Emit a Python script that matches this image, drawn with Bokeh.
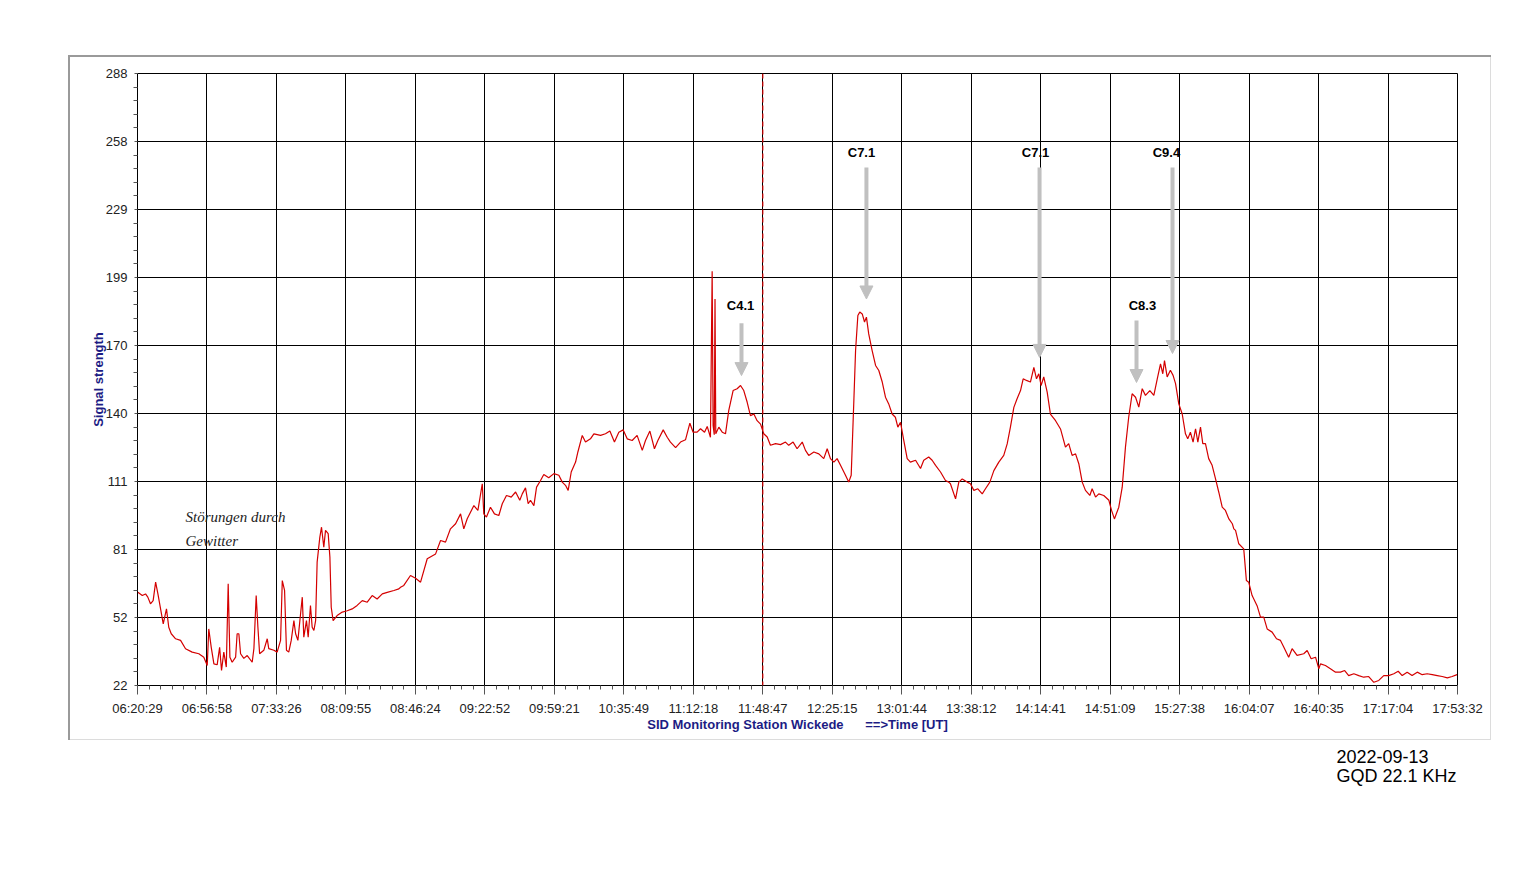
from bokeh.plotting import figure
from bokeh.models import (Range1d, FixedTicker, Span, Arrow, NormalHead, Title,
                          CustomJSTickFormatter)
from bokeh.embed import file_html
from bokeh.resources import INLINE
from bokeh.core.properties import value

# ---------------- data (time in minutes since 00:00 UT) ----------------
time_min = [
    380.7, 383.0, 384.7, 385.9, 387.3, 388.7, 390.0, 391.2, 392.6, 394.0,
    395.7, 396.9, 398.2, 400.5, 403.1, 405.7, 409.2, 412.7, 415.3, 417.1,
    417.9, 419.2, 420.6, 422.3, 423.6, 424.6, 425.8, 427.1, 428.1, 429.0,
    430.2, 432.0, 432.8, 433.7, 434.6, 436.3, 438.1, 440.7, 441.6, 442.8,
    443.7, 444.6, 446.8, 448.6, 449.4, 452.1, 453.8, 455.6, 456.5, 457.7,
    458.7, 459.9, 461.2, 462.6, 463.5, 464.7, 466.1, 467.0, 467.8, 469.2,
    470.1, 471.3, 472.2, 473.1, 474.0, 474.8, 476.2, 477.1, 478.3, 479.2,
    480.6, 481.5, 482.2, 483.2, 485.3, 488.0, 490.6, 493.2, 495.8, 498.5,
    501.1, 503.7, 506.3, 509.0, 511.6, 515.1, 517.7, 518.6, 520.3, 523.8,
    526.5, 529.1, 532.6, 537.0, 539.6, 542.2, 544.8, 547.5, 550.1, 551.8,
    553.6, 557.1, 559.2, 561.5, 562.3, 563.7, 565.8, 567.9, 570.2, 572.0,
    574.2, 576.7, 579.0, 581.2, 582.5, 584.2, 585.6, 586.8, 588.6, 590.0,
    592.1, 593.8, 596.4, 599.1, 601.7, 603.5, 605.2, 606.6, 608.2, 610.5,
    611.7, 614.0, 615.7, 618.3, 620.1, 623.6, 626.2, 628.5, 630.9, 633.2,
    635.5, 637.6, 640.2, 642.8, 645.5, 647.2, 649.5, 651.9, 653.7, 656.5,
    658.6, 660.3, 663.0, 665.6, 668.2, 670.5, 672.2, 674.3, 676.1, 678.2,
    679.6, 681.3, 682.2, 682.7, 683.3, 683.7, 684.1, 685.7, 687.5, 689.2,
    690.9, 693.2, 695.3, 697.1, 698.8, 700.6, 702.3, 704.1, 705.8, 707.6,
    709.3, 711.1, 712.8, 715.5, 718.1, 720.7, 722.4, 724.7, 726.8, 729.5,
    731.2, 732.9, 735.6, 738.2, 740.8, 742.6, 744.3, 746.1, 747.8, 749.6,
    752.2, 753.9, 755.2, 756.6, 757.5, 758.7, 759.7, 761.0, 762.2, 763.2,
    764.4, 766.2, 768.0, 769.7, 771.5, 773.2, 774.9, 776.7, 778.4, 779.7,
    781.1, 782.8, 784.6, 786.3, 789.0, 791.6, 793.3, 795.9, 797.7, 799.5,
    802.1, 804.7, 806.4, 807.3, 810.0, 811.7, 813.5, 816.1, 817.8, 819.6,
    821.7, 824.0, 825.7, 828.0, 830.1, 832.7, 835.3, 837.1, 838.8, 840.6,
    842.3, 844.1, 845.5, 847.2, 849.3, 851.1, 852.5, 853.7, 854.9, 856.3,
    858.1, 859.8, 862.5, 865.1, 867.7, 869.4, 871.2, 873.0, 874.7, 876.5,
    878.2, 880.5, 881.7, 883.5, 885.2, 887.8, 890.5, 891.9, 893.4, 895.7,
    897.5, 899.2, 900.9, 902.7, 904.5, 906.2, 908.0, 909.7, 912.0, 914.1,
    915.9, 917.6, 918.8, 919.7, 921.1, 922.8, 924.2, 925.5, 927.2, 929.0,
    930.7, 931.9, 933.3, 934.7, 936.0, 937.2, 938.6, 939.8, 941.2, 942.9,
    944.7, 946.5, 948.2, 950.0, 951.7, 953.5, 955.3, 956.1, 957.0, 958.7,
    961.3, 962.7, 963.9, 965.7, 968.3, 970.1, 971.8, 973.6, 976.2, 978.5,
    980.6, 982.3, 984.9, 986.7, 989.3, 992.8, 994.6, 996.7, 999.0, 1000.7,
    1001.6, 1004.2, 1006.8, 1009.5, 1012.1, 1014.3, 1016.4, 1019.1, 1021.7, 1024.3,
    1026.9, 1029.6, 1032.2, 1034.8, 1037.4, 1040.1, 1042.4, 1044.5, 1047.1, 1049.7,
    1052.4, 1055.0, 1057.6, 1060.3, 1062.9, 1065.5, 1068.2, 1070.7, 1073.3,
]
signal = [
    62.5, 61.1, 61.8, 60.4, 57.5, 58.9, 66.9, 61.8, 55.3, 48.8,
    55.3, 47.3, 44.5, 42.3, 41.6, 38.0, 36.5, 35.8, 34.3, 30.7,
    46.6, 38.6, 31.4, 31.0, 38.6, 28.5, 36.5, 30.0, 66.2, 34.3,
    32.1, 34.3, 44.5, 44.5, 35.8, 33.8, 35.0, 32.1, 38.0, 61.1,
    47.3, 35.8, 37.3, 42.3, 38.0, 37.3, 36.5, 41.6, 67.6, 63.3,
    37.3, 36.5, 41.6, 50.2, 44.5, 41.6, 53.2, 60.4, 43.0, 50.2,
    43.0, 56.8, 47.3, 45.9, 50.2, 75.6, 86.4, 90.8, 82.1, 89.4,
    88.0, 77.8, 56.0, 50.2, 52.4, 53.9, 54.5, 55.3, 56.8, 58.9,
    58.2, 61.1, 59.6, 61.8, 62.5, 63.3, 64.0, 64.7, 65.5, 69.8,
    68.6, 66.9, 77.1, 79.2, 85.0, 84.3, 90.1, 92.3, 96.6, 90.1,
    94.5, 100.2, 98.1, 109.7, 96.6, 95.2, 99.5, 96.6, 95.9, 101.0,
    104.6, 103.9, 106.1, 102.5, 105.3, 107.9, 101.0, 102.5, 100.2, 108.2,
    111.1, 113.7, 112.3, 114.1, 113.4, 110.4, 109.0, 106.8, 114.8, 119.1,
    123.5, 130.7, 127.8, 129.2, 131.4, 130.7, 131.4, 132.6, 127.8, 132.1,
    133.1, 129.2, 128.5, 130.7, 124.2, 128.5, 132.6, 124.9, 128.5, 133.1,
    129.9, 127.8, 125.4, 127.8, 128.8, 136.0, 132.1, 132.1, 133.6, 132.1,
    134.6, 129.9, 202.0, 135.0, 131.0, 190.0, 131.4, 134.3, 132.1, 131.4,
    141.5, 150.2, 151.0, 152.4, 150.2, 145.1, 139.3, 140.0, 137.1, 135.6,
    131.4, 130.0, 126.4, 127.1, 126.7, 127.8, 126.4, 127.8, 124.9, 127.8,
    124.2, 122.0, 123.5, 122.7, 120.6, 124.9, 120.6, 119.1, 120.6, 117.7,
    113.4, 110.4, 113.4, 145.9, 167.6, 182.8, 184.3, 183.5, 180.0, 182.1,
    174.8, 167.6, 161.1, 158.9, 153.9, 147.3, 144.4, 140.0, 138.6, 134.3,
    136.4, 128.5, 120.6, 119.1, 119.9, 116.3, 119.9, 121.3, 119.9, 117.7,
    114.8, 111.1, 110.4, 109.7, 103.1, 110.4, 111.8, 110.4, 109.7, 106.8,
    107.5, 105.3, 107.5, 110.4, 115.4, 119.1, 122.0, 127.0, 134.3, 142.9,
    146.6, 150.2, 155.3, 154.6, 153.9, 160.3, 155.3, 157.5, 152.4, 156.1,
    149.5, 140.0, 137.1, 133.5, 125.6, 127.1, 122.0, 122.7, 118.4, 110.4,
    106.8, 104.6, 107.5, 103.9, 105.3, 104.6, 102.5, 98.1, 94.4, 99.5,
    108.2, 125.6, 138.6, 148.8, 147.3, 143.0, 151.0, 148.1, 150.2, 148.1,
    155.3, 161.8, 157.5, 163.2, 156.1, 159.0, 156.8, 153.2, 144.4, 140.0,
    131.4, 129.2, 132.1, 127.8, 133.6, 127.8, 134.3, 127.1, 127.1, 120.6,
    117.7, 111.8, 106.0, 99.5, 98.1, 94.4, 92.3, 90.1, 89.4, 83.6,
    81.4, 67.6, 66.9, 61.1, 56.7, 51.7, 51.7, 46.6, 45.2, 42.3,
    41.6, 38.7, 34.3, 38.0, 35.1, 35.8, 37.2, 33.6, 34.3, 29.3,
    31.4, 30.7, 29.3, 27.8, 27.8, 28.5, 26.3, 27.1, 26.3, 25.6,
    25.9, 23.4, 24.2, 26.3, 26.3, 27.1, 28.2, 26.3, 27.8, 26.3,
    27.8, 26.7, 27.1, 26.7, 26.3, 25.9, 25.3, 25.9, 26.7,
]
assert len(time_min) == len(signal)

x_tick_labels = ["06:20:29", "06:56:58", "07:33:26", "08:09:55", "08:46:24",
                 "09:22:52", "09:59:21", "10:35:49", "11:12:18", "11:48:47",
                 "12:25:15", "13:01:44", "13:38:12", "14:14:41", "14:51:09",
                 "15:27:38", "16:04:07", "16:40:35", "17:17:04", "17:53:32"]
y_tick_labels = ["22", "52", "81", "111", "140", "170", "199", "229", "258", "288"]

t_start = 6 * 60 + 20 + 29 / 60.0     # 06:20:29
t_end = 17 * 60 + 53 + 32 / 60.0      # 17:53:32
y_min, y_max = 22, 288
marker_time = 11 * 60 + 48 + 47 / 60.0   # 11:48:47

flare_labels = ["C4.1", "C7.1", "C7.1", "C8.3", "C9.4"]
flare_label_t = [697.1, 760.6, 852.0, 908.1, 920.7]
flare_label_v = [187.1, 253.6, 253.6, 187.1, 253.6]
arrow_t = [697.6, 763.2, 854.1, 905.0, 923.9]
arrow_from = [179.5, 247.1, 247.1, 180.6, 247.1]
arrow_to = [156.7, 190.0, 164.6, 153.7, 166.3]

note_lines = ["Störungen durch", "Gewitter"]
note_t = [405.7, 405.7]
note_v = [95.4, 85.0]

caption_lines = ["2022-09-13", "GQD 22.1 KHz"]

# ---------------- figure ----------------
FONT = "Liberation Sans"
AXIS_BLUE = "#1c1c84"
BORDER_DARK = "#9a9a9a"
BORDER_LIGHT = "#dcdcdc"

p = figure(frame_width=1320, frame_height=612,
           x_range=Range1d(t_start, t_end), y_range=Range1d(y_min, y_max),
           output_backend="svg", toolbar_location=None,
           min_border_left=137, min_border_top=73,
           min_border_right=40, min_border_bottom=160,
           background_fill_color="white", border_fill_color=None)
p.outline_line_color = "black"
p.outline_line_width = 1

# sunken outer panel border drawn as CSS background lines behind the canvas
p.styles = {
    "background-color": "white",
    "background-image": ", ".join(
        [f"linear-gradient({c},{c})" for c in
         (BORDER_DARK, BORDER_DARK, BORDER_LIGHT, BORDER_LIGHT)]),
    "background-size": "1423px 2px, 2px 685px, 1px 685px, 1423px 1px",
    "background-position": "68px 55px, 68px 55px, 1490px 55px, 68px 739px",
    "background-repeat": "no-repeat",
}

nx = len(x_tick_labels) - 1
x_step = (t_end - t_start) / nx
x_ticks = [t_start + k * x_step for k in range(nx + 1)]
x_minor = [t_start + j * x_step / 6 for j in range(nx * 6 + 1) if j % 6]
ny = len(y_tick_labels) - 1
y_step = (y_max - y_min) / ny
y_ticks = [y_min + k * y_step for k in range(ny + 1)]
y_minor = [y_min + j * y_step / 5 for j in range(ny * 5 + 1) if j % 5]

p.xaxis.ticker = FixedTicker(ticks=x_ticks, minor_ticks=x_minor)
p.yaxis.ticker = FixedTicker(ticks=y_ticks, minor_ticks=y_minor)
p.xaxis.formatter = CustomJSTickFormatter(
    args=dict(labels=x_tick_labels, t0=t_start, step=x_step),
    code="return labels[Math.round((tick - t0) / step)];")
p.yaxis.formatter = CustomJSTickFormatter(
    args=dict(labels=y_tick_labels, v0=y_min, step=y_step),
    code="return labels[Math.round((tick - v0) / step)];")

for g in (p.xgrid, p.ygrid):
    g.grid_line_color = "black"
    g.grid_line_alpha = 1.0
    g.grid_line_width = 1

for ax in (p.xaxis, p.yaxis):
    ax.axis_line_color = None
    ax.major_tick_in = 0
    ax.minor_tick_in = 0
    ax.major_tick_line_color = "#555555"
    ax.minor_tick_line_color = "#555555"
    ax.major_label_text_font = FONT
    ax.major_label_text_font_size = "13px"
    ax.major_label_text_color = "#222222"
    ax.axis_label_text_font = FONT
    ax.axis_label_text_font_style = "bold"
    ax.axis_label_text_font_size = "13px"
    ax.axis_label_text_color = AXIS_BLUE

p.xaxis.major_tick_out = 9
p.xaxis.minor_tick_out = 4
p.xaxis.major_label_standoff = 6
p.xaxis.axis_label_standoff = -2
p.xaxis.axis_label = "SID Monitoring Station Wickede" + "\u00a0" * 6 + "==>Time [UT]"

p.yaxis.major_tick_out = 3
p.yaxis.minor_tick_out = 4
p.yaxis.major_label_standoff = 6
p.yaxis.axis_label_standoff = -3
p.yaxis.axis_label = "Signal strength"

# signal trace
p.line(time_min, signal, line_color="#d40000", line_width=1.2)

# current-time marker
p.add_layout(Span(location=marker_time, dimension="height",
                  line_color="#d40000", line_dash="5 3", line_width=1.2))

# flare arrows and labels
ARROW_GREY = "#c0c0c0"
for t, a, b in zip(arrow_t, arrow_from, arrow_to):
    p.add_layout(Arrow(end=NormalHead(size=13, fill_color=ARROW_GREY,
                                      line_color=ARROW_GREY),
                       x_start=t, y_start=a, x_end=t, y_end=b,
                       line_color=ARROW_GREY, line_width=4))

p.text(x=flare_label_t, y=flare_label_v, text=flare_labels,
       text_font=value(FONT), text_font_style="bold", text_font_size="13px",
       text_align="center", text_baseline="middle", text_color="black")

p.text(x=note_t, y=note_v, text=note_lines,
       text_font=value("Liberation Serif"), text_font_style="italic",
       text_font_size="15px", text_align="left", text_baseline="middle",
       text_color="#222222")

# station / date caption below the panel
p.add_layout(Title(text="\n".join(caption_lines), align="left", offset=1199,
                   text_font=FONT, text_font_size="18px",
                   text_font_style="normal", text_color="black",
                   text_line_height=0.98, standoff=20), "below")

open("out.html", "w").write(file_html(p, INLINE))
